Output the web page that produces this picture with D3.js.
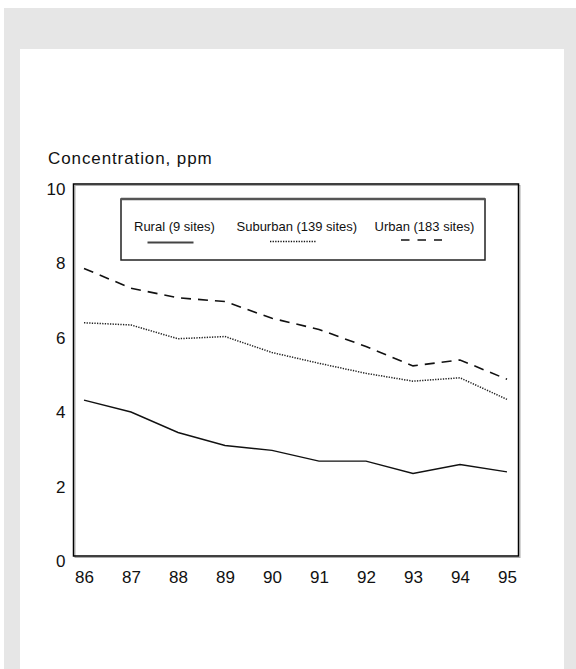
<!DOCTYPE html>
<meta charset="utf-8">
<style>
body { margin: 0; background: #fff; }
text { font-family: "Liberation Sans", Arial, sans-serif; fill: #111; }
.axis text { font-size: 17px; }
.legend text { font-size: 13px; }
</style>
<svg width="576" height="669"></svg>
<script src="https://d3js.org/d3.v7.min.js"></script>
<script>

// data
var years = [86, 87, 88, 89, 90, 91, 92, 93, 94, 95];
var rural    = [4.19, 3.87, 3.32, 2.97, 2.84, 2.55, 2.55, 2.22, 2.46, 2.26];
var suburban = [6.27, 6.21, 5.84, 5.90, 5.47, 5.18, 4.91, 4.70, 4.79, 4.21];
var urban    = [7.73, 7.20, 6.94, 6.84, 6.39, 6.09, 5.63, 5.11, 5.27, 4.75];
var yTicks = [0, 2, 4, 6, 8, 10];
var seriesNames = ["Rural (9 sites)", "Suburban (139 sites)", "Urban (183 sites)"];

var svg = d3.select("svg");

// backdrop
svg.append("rect").attr("x", 4).attr("y", 8).attr("width", 572).attr("height", 661).attr("fill", "#e6e6e6");
svg.append("rect").attr("x", 20).attr("y", 49).attr("width", 544).attr("height", 620).attr("fill", "#fff");

var box = {left: 73.5, top: 184, right: 518.5, bottom: 556};

var x = d3.scaleLinear().domain([86, 95]).range([84, 507]);
var y = d3.scaleLinear().domain([0, 10]).range([box.bottom, box.top]);

// y axis labels
var yAxis = svg.append("g")
    .attr("class", "axis")
    .attr("transform", "translate(" + box.left + ",0)")
    .call(d3.axisLeft(y).tickValues(yTicks).tickSize(0).tickPadding(8));
yAxis.select(".domain").remove();
yAxis.selectAll("text").attr("dy", "0.62em").attr("font-family", null).attr("font-size", null);

// x axis labels
var xAxis = svg.append("g")
    .attr("class", "axis")
    .attr("transform", "translate(0," + box.bottom + ")")
    .call(d3.axisBottom(x).tickValues(years).tickFormat(d3.format("d")).tickSize(0).tickPadding(15));
xAxis.select(".domain").remove();
xAxis.selectAll("text").attr("font-family", null).attr("font-size", null);

// frame with a faint shadow
svg.append("rect")
    .attr("x", box.left + 1.5).attr("y", box.top + 1.5)
    .attr("width", box.right - box.left).attr("height", box.bottom - box.top)
    .attr("fill", "none").attr("stroke", "#aaa").attr("stroke-width", 1);
svg.append("rect")
    .attr("x", box.left).attr("y", box.top)
    .attr("width", box.right - box.left).attr("height", box.bottom - box.top)
    .attr("fill", "none").attr("stroke", "#000").attr("stroke-width", 1.5);

svg.append("text")
    .attr("x", 48).attr("y", 164)
    .attr("font-size", "17px")
    .attr("letter-spacing", "0.9px")
    .text("Concentration, ppm");

var line = d3.line()
    .x(function(d, i) { return x(years[i]); })
    .y(function(d) { return y(d); });

var styles = [
  {dash: null, width: 1.4, color: "#111"},
  {dash: "1.3,1.3", width: 1.5, color: "#222"},
  {dash: "10,7", width: 1.6, color: "#111"}
];

[rural, suburban, urban].forEach(function(s, i) {
  svg.append("path")
      .datum(s)
      .attr("fill", "none")
      .attr("stroke", styles[i].color)
      .attr("stroke-width", styles[i].width)
      .attr("stroke-dasharray", styles[i].dash)
      .attr("d", line);
});

// legend
var legend = svg.append("g").attr("class", "legend");
legend.append("rect")
    .attr("x", 121).attr("y", 199).attr("width", 364).attr("height", 61)
    .attr("fill", "#fff").attr("stroke", "#222").attr("stroke-width", 1.5);
legend.append("line").attr("x1", 121).attr("x2", 485).attr("y1", 199).attr("y2", 199)
    .attr("stroke", "#555").attr("stroke-width", 2.5);

var legendText = [134, 236.5, 374.5];
var legendLine = [[147.5, 193.5, 242.5], [270, 316, 241.5], [401, 442, 240]];
seriesNames.forEach(function(name, i) {
  legend.append("text").attr("x", legendText[i]).attr("y", 230.5).text(name);
  legend.append("line")
      .attr("x1", legendLine[i][0]).attr("x2", legendLine[i][1])
      .attr("y1", legendLine[i][2]).attr("y2", legendLine[i][2])
      .attr("stroke", i == 0 ? "#444" : "#111")
      .attr("stroke-width", i == 0 ? 2 : 1.4)
      .attr("stroke-dasharray", i == 0 ? null : (i == 1 ? "1.3,1.3" : "8.5,8"));
});

</script>
